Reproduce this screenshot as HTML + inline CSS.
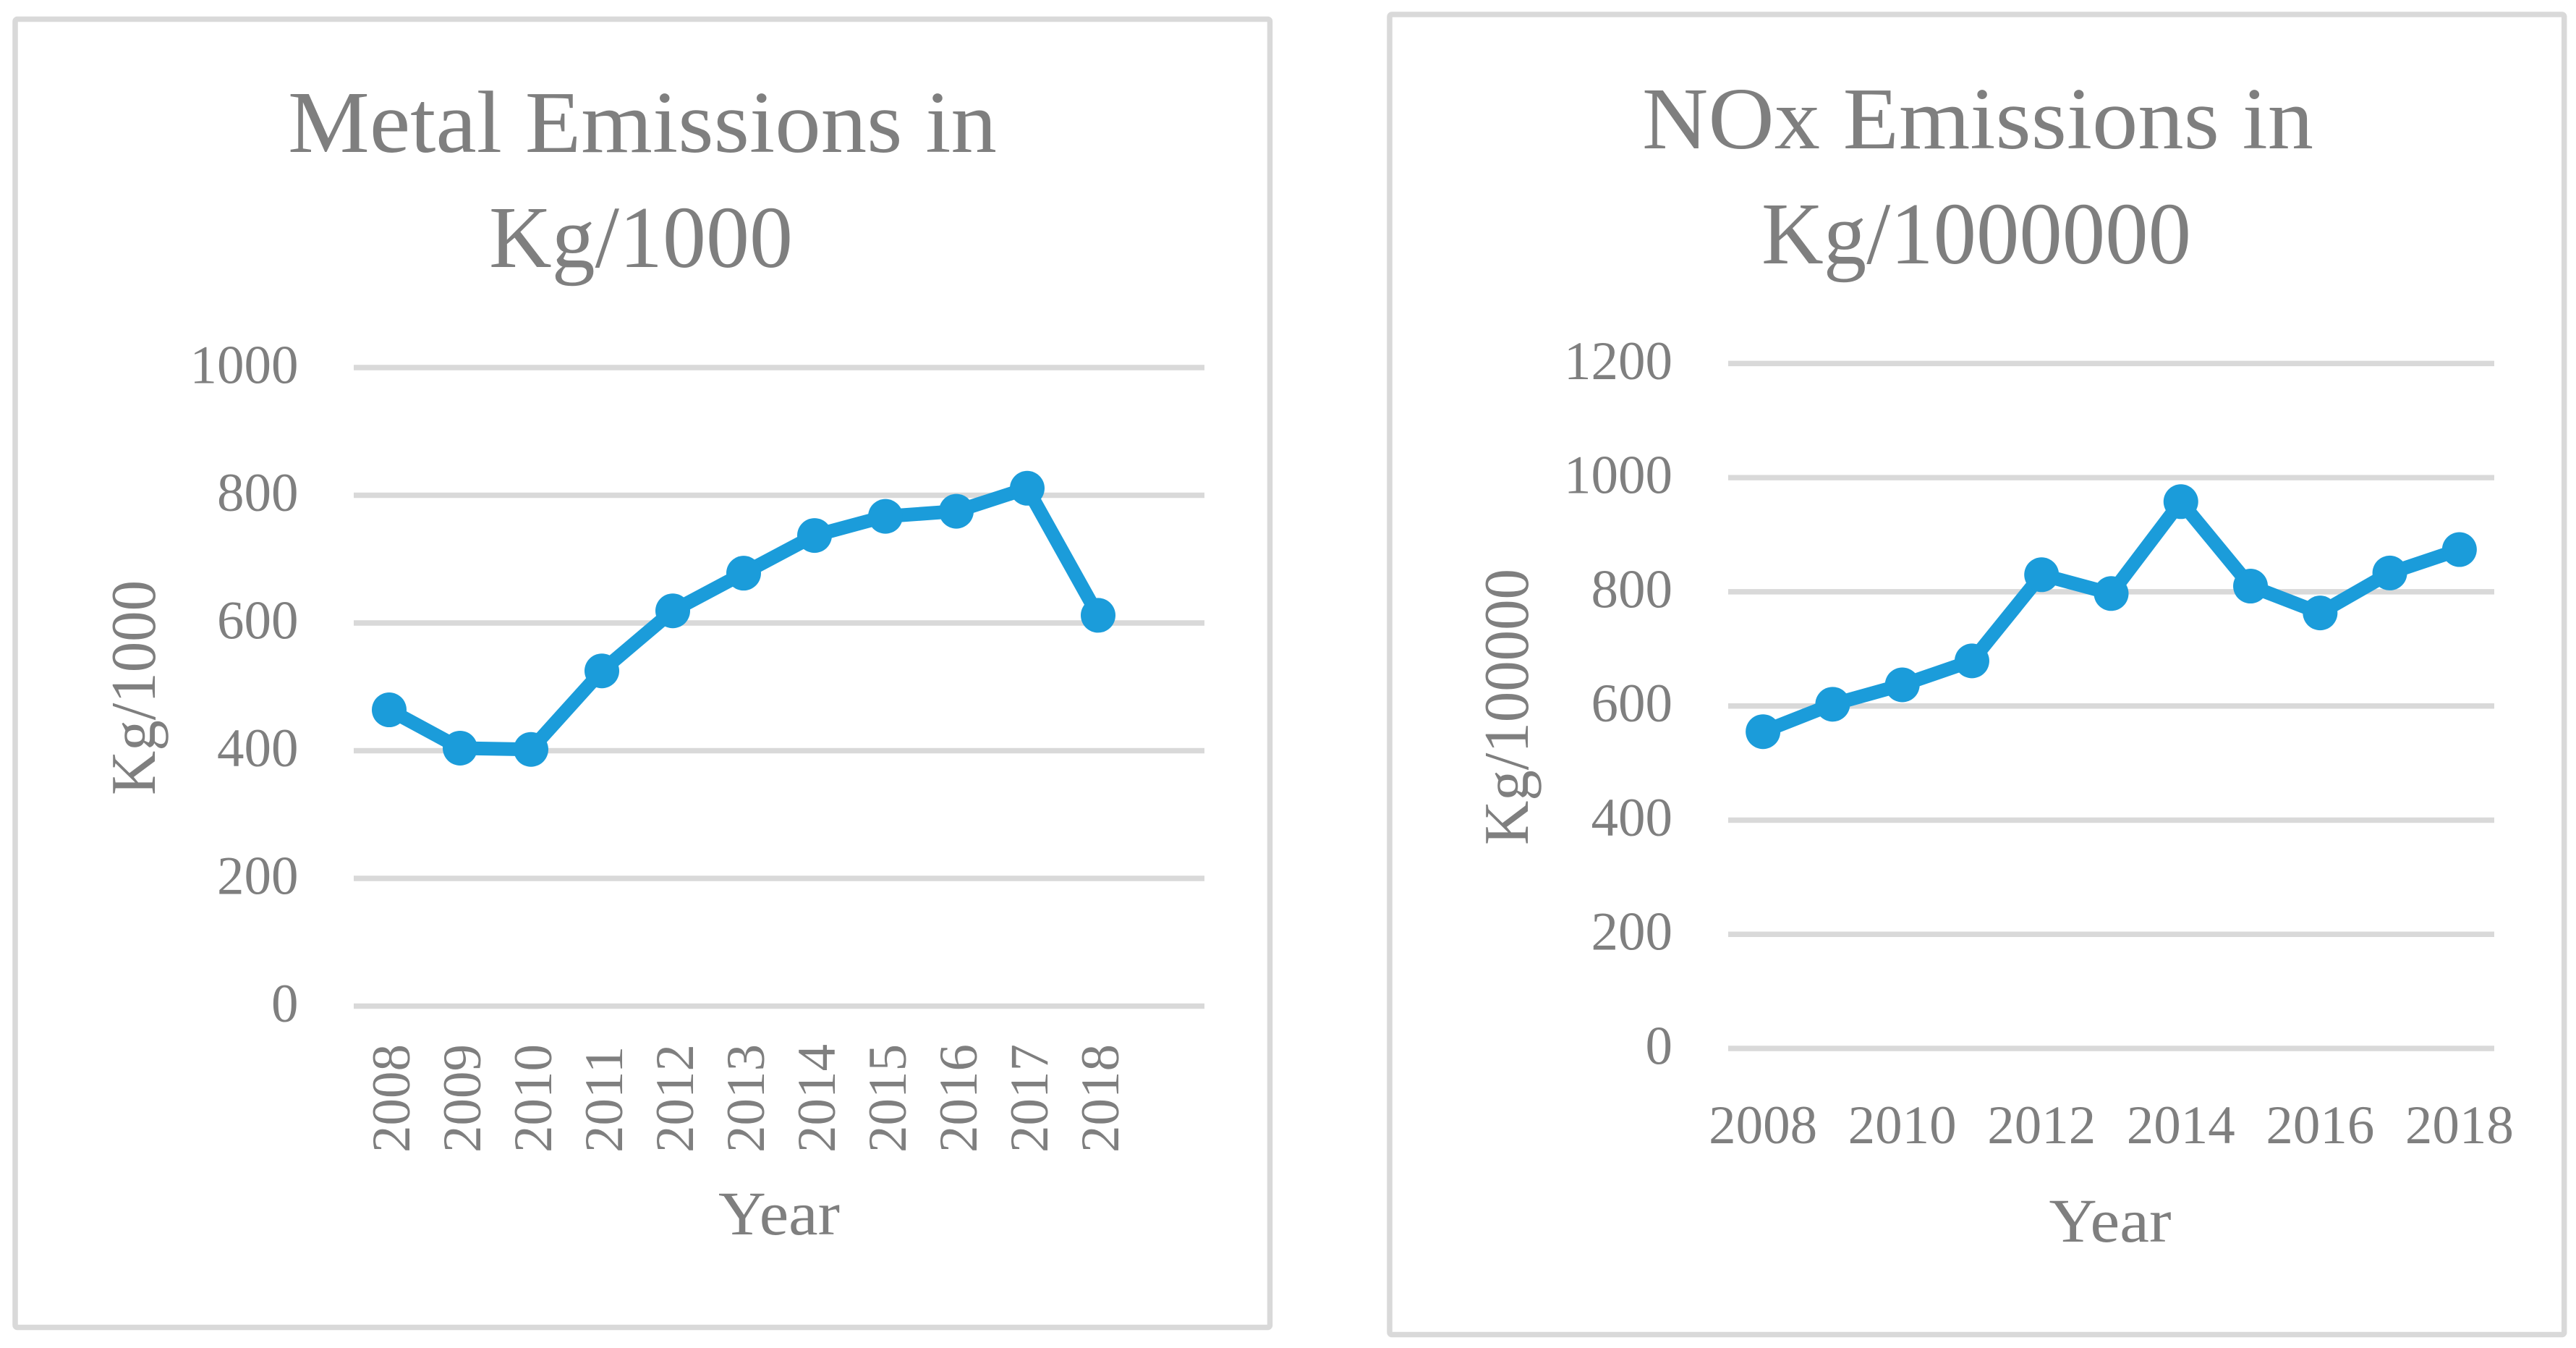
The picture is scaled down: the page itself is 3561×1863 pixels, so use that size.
<!DOCTYPE html>
<html lang="en">
<head>
<meta charset="utf-8">
<title>Metal and NOx Emissions</title>
<style>
html, body { margin: 0; padding: 0; background: #ffffff; }
svg { display: block; }
text { font-family: "Liberation Serif", serif; fill: #7f7f7f; }
</style>
</head>
<body>
<svg id="figure" xmlns="http://www.w3.org/2000/svg" width="3561" height="1863" viewBox="0 0 3561 1863">
  <rect width="3561" height="1863" fill="#ffffff"/>

  <g id="metal-chart">
    <rect x="21" y="26.5" width="1734.5" height="1808" rx="3" fill="#ffffff" stroke="#d9d9d9" stroke-width="7.5"/>
    <text x="888" y="210" font-size="122" text-anchor="middle" textLength="980" lengthAdjust="spacingAndGlyphs">Metal Emissions in</text>
    <text x="886" y="369" font-size="122" text-anchor="middle" textLength="420" lengthAdjust="spacingAndGlyphs">Kg/1000</text>
    <text transform="translate(214 1099) rotate(-90)" font-size="88" textLength="297" lengthAdjust="spacingAndGlyphs">Kg/1000</text>
    <text x="1077" y="1706" font-size="86" text-anchor="middle" textLength="168" lengthAdjust="spacingAndGlyphs">Year</text>
  </g>

  <g id="nox-chart">
    <rect x="1921" y="20" width="1623.7" height="1824.5" rx="3" fill="#ffffff" stroke="#d9d9d9" stroke-width="7.5"/>
    <text x="2734" y="205" font-size="122" text-anchor="middle" textLength="928" lengthAdjust="spacingAndGlyphs">NOx Emissions in</text>
    <text x="2732" y="364" font-size="122" text-anchor="middle" textLength="594" lengthAdjust="spacingAndGlyphs">Kg/1000000</text>
    <text transform="translate(2112 1168) rotate(-90)" font-size="88" textLength="382" lengthAdjust="spacingAndGlyphs">Kg/100000</text>
    <text x="2917" y="1716" font-size="86" text-anchor="middle" textLength="169" lengthAdjust="spacingAndGlyphs">Year</text>
  </g>
</svg>

<script>
const years = [2008, 2009, 2010, 2011, 2012, 2013, 2014, 2015, 2016, 2017, 2018];
const metalValues = [464, 404, 402, 525, 619, 678, 737, 767, 775, 811, 612];
const noxValues = [555, 603, 637, 679, 830, 797, 958, 810, 763, 833, 874];
const metalYTicks = [0, 200, 400, 600, 800, 1000];
const noxYTicks = [0, 200, 400, 600, 800, 1000, 1200];
const metalXTicks = [2008, 2009, 2010, 2011, 2012, 2013, 2014, 2015, 2016, 2017, 2018];
const noxXTicks = [2008, 2010, 2012, 2014, 2016, 2018];

const SVG_NS = 'http://www.w3.org/2000/svg';

function makeScaleY(plot, maxValue) {
  return function (v) {
    return plot.bottom - (v / maxValue) * (plot.bottom - plot.top);
  };
}

function makeScaleX(plot, slots) {
  const step = (plot.right - plot.left) / slots;
  return function (year) {
    return plot.left + step * (year - years[0] + 0.5);
  };
}

function drawGrid(group, prefix, plot, ticks, y) {
  ticks.forEach(function (t) {
    const line = document.createElementNS(SVG_NS, 'line');
    line.setAttribute('x1', plot.left);
    line.setAttribute('x2', plot.right);
    line.setAttribute('y1', y(t));
    line.setAttribute('y2', y(t));
    line.setAttribute('stroke', '#d9d9d9');
    line.setAttribute('stroke-width', '7.5');
    
    
    group.appendChild(line);

    const label = document.createElementNS(SVG_NS, 'text');
    label.setAttribute('x', plot.tickRight);
    label.setAttribute('y', y(t) + 21.5);
    label.setAttribute('font-size', '75');
    label.setAttribute('text-anchor', 'end');
    
    
    label.textContent = String(t);
    group.appendChild(label);
  });
}

function drawSeries(group, prefix, values, x, y, lineWidth, radius) {
  const pts = values.map(function (v, i) {
    return x(years[i]) + ',' + y(v);
  }).join(' ');
  const poly = document.createElementNS(SVG_NS, 'polyline');
  poly.setAttribute('points', pts);
  poly.setAttribute('fill', 'none');
  poly.setAttribute('stroke', '#1b9cda');
  poly.setAttribute('stroke-width', lineWidth);
  poly.setAttribute('stroke-linejoin', 'round');
  poly.setAttribute('stroke-linecap', 'round');
  
  
  group.appendChild(poly);

  values.forEach(function (v, i) {
    const dot = document.createElementNS(SVG_NS, 'circle');
    dot.setAttribute('cx', x(years[i]));
    dot.setAttribute('cy', y(v));
    dot.setAttribute('r', radius);
    dot.setAttribute('fill', '#1b9cda');
    
    
    group.appendChild(dot);
  });
}

/* Metal chart */
const metalGroup = document.getElementById('metal-chart');
const metalPlot = { left: 489, right: 1665, top: 508, bottom: 1390.5, tickRight: 412.5 };
const metalY = makeScaleY(metalPlot, 1000);
const metalX = makeScaleX(metalPlot, 12);
drawGrid(metalGroup, 'metal', metalPlot, metalYTicks, metalY);
metalXTicks.forEach(function (yr) {
  const label = document.createElementNS(SVG_NS, 'text');
  label.setAttribute('transform', 'translate(' + (metalX(yr) + 28) + ' 1593) rotate(-90)');
  label.setAttribute('font-size', '75');
  
  
  label.textContent = String(yr);
  metalGroup.appendChild(label);
});
drawSeries(metalGroup, 'metal', metalValues, metalX, metalY, 19, 24);

/* NOx chart */
const noxGroup = document.getElementById('nox-chart');
const noxPlot = { left: 2389, right: 3448, top: 502.4, bottom: 1449, tickRight: 2312 };
const noxY = makeScaleY(noxPlot, 1200);
const noxX = makeScaleX(noxPlot, 11);
drawGrid(noxGroup, 'nox', noxPlot, noxYTicks, noxY);
noxXTicks.forEach(function (yr) {
  const label = document.createElementNS(SVG_NS, 'text');
  label.setAttribute('x', noxX(yr));
  label.setAttribute('y', 1580);
  label.setAttribute('font-size', '75');
  label.setAttribute('text-anchor', 'middle');
  
  
  label.textContent = String(yr);
  noxGroup.appendChild(label);
});
drawSeries(noxGroup, 'nox', noxValues, noxX, noxY, 19, 24);
</script>
</body>
</html>
